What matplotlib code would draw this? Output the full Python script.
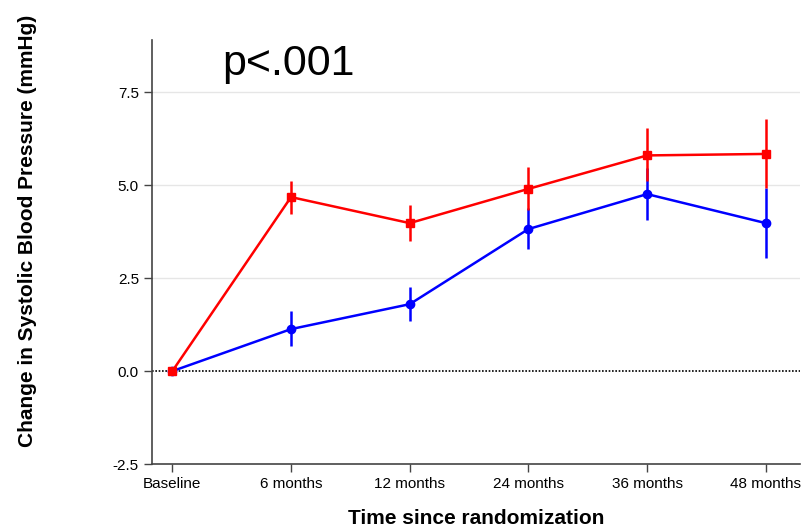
import matplotlib
matplotlib.use('Agg')
import matplotlib.pyplot as plt
import numpy as np

timepoints = ['Baseline', '6 months', '12 months', '24 months', '36 months', '48 months']

red_mean = [0.0, 4.68, 3.98, 4.90, 5.80, 5.84]
red_low = [0.0, 4.23, 3.49, 4.33, 5.11, 4.92]
red_high = [0.0, 5.11, 4.46, 5.48, 6.54, 6.78]

blue_mean = [0.0, 1.13, 1.80, 3.82, 4.76, 3.98]
blue_low = [0.0, 0.67, 1.34, 3.28, 4.06, 3.04]
blue_high = [0.0, 1.61, 2.26, 4.38, 5.46, 4.92]

yticks = [-2.5, 0.0, 2.5, 5.0, 7.5]

plt.rcParams['font.family'] = ['Liberation Sans', 'DejaVu Sans']

fig = plt.figure(figsize=(8.05, 5.28), dpi=100)
ax = fig.add_axes([0.189, 0.121, 0.805, 0.803])

x = np.arange(len(timepoints))

for yv in [2.5, 5.0, 7.5]:
    ax.axhline(yv, color='#e6e6e6', lw=1, zorder=0)
ax.axhline(0, color='black', lw=1.2, ls=(0, (1, 1)), zorder=1)

def draw(mean, low, high, color, marker, ms):
    mean = np.array(mean)
    err = [mean - np.array(low), np.array(high) - mean]
    ax.errorbar(x, mean, yerr=err, color=color, marker=marker, ms=ms,
                lw=1.8, elinewidth=1.8, capsize=0, zorder=3)

draw(blue_mean, blue_low, blue_high, 'blue', 'o', 6)
draw(red_mean, red_low, red_high, 'red', 's', 6)

ax.set_xlim(-0.17, 5.29)
ax.set_ylim(-2.5, 8.9)
ax.set_xticks(x)
ax.set_xticklabels(timepoints, fontsize=11)
ax.set_yticks(yticks)
ax.set_yticklabels(['%.1f' % v for v in yticks], fontsize=11)

for s in ['top', 'right']:
    ax.spines[s].set_visible(False)
for s in ['left', 'bottom']:
    ax.spines[s].set_color('#444444')
    ax.spines[s].set_linewidth(1.2)
ax.tick_params(direction='out', length=6, width=1, color='#444444')

ax.set_xlabel('Time since randomization', fontsize=15, fontweight='bold')
ax.xaxis.set_label_coords(0.5, -0.107)
ax.set_ylabel('Change in Systolic Blood Pressure (mmHg)', fontsize=15, fontweight='bold')
ax.yaxis.set_label_coords(-0.178, 0.55)

ax.text(0.42, 8.25, 'p<.001', fontsize=31, va='center', ha='left')

fig.savefig('out.png', dpi=100)
